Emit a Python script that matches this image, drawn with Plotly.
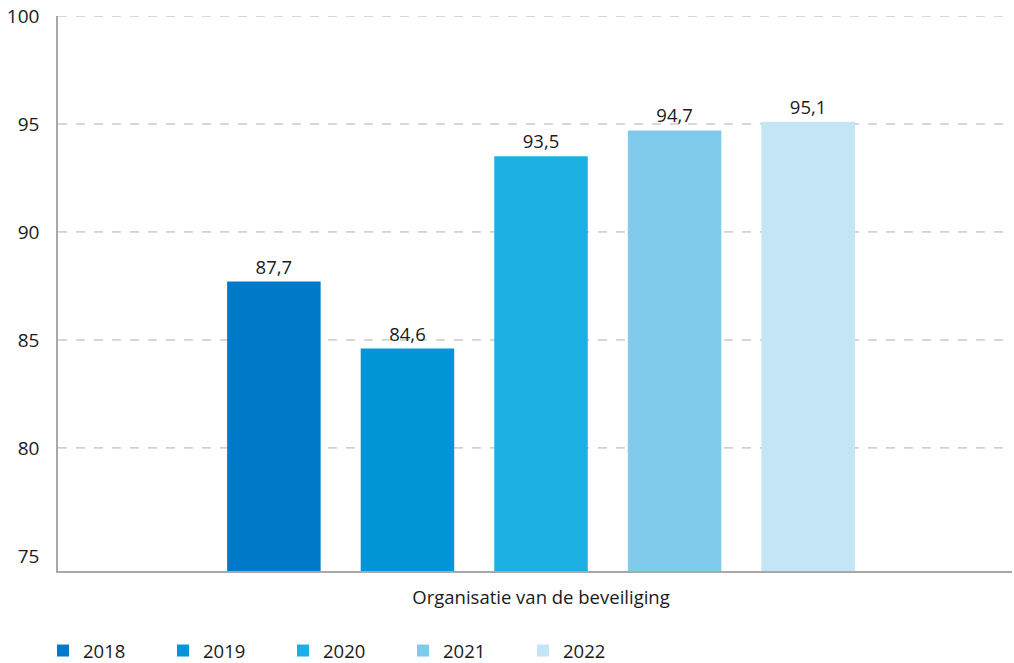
import plotly.graph_objects as go

categories = ["Organisatie van de beveiliging"]
years = ["2018", "2019", "2020", "2021", "2022"]
values = [87.7, 84.6, 93.5, 94.7, 95.1]
colors = ["#0079C8", "#0096D6", "#1BB0E1", "#80CAEB", "#C3E5F5"]
grid_values = [80, 85, 90, 95, 100]
tick_values = [75, 80, 85, 90, 95, 100]

FONT = "Open Sans"

fig = go.Figure()
for yr, v, c in zip(years, values, colors):
    fig.add_trace(go.Bar(
        x=categories, y=[v], name=yr, marker=dict(color=c, line=dict(width=0)),
        text=[v], texttemplate="%{y:.1f}", textposition="outside",
        textfont=dict(size=18.5, color="#1a1a1a", family=FONT), cliponaxis=False,
    ))

for g in grid_values:
    fig.add_shape(type="line", xref="paper", yref="y", x0=0, x1=1, y0=g, y1=g,
                  line=dict(color="#b0b0b0", width=1, dash="dash"), layer="below")

fig.update_layout(
    width=1014, height=663,
    margin=dict(l=58, r=2, t=16, b=92),
    paper_bgcolor="white", plot_bgcolor="white",
    separators=",.",
    barmode="group", bargap=0.30, bargroupgap=0.30,
    font=dict(family=FONT, size=18, color="#1a1a1a"),
    showlegend=True,
    legend=dict(orientation="h", xref="container", x=43 / 1014, xanchor="left",
                yref="container", y=1 - 651 / 663, yanchor="middle",
                entrywidth=75, entrywidthmode="pixels",
                font=dict(size=18.5, family=FONT, color="#1a1a1a"), itemsizing="constant"),
    xaxis=dict(showline=True, linecolor="#a8a8a8", linewidth=1.5, ticks="",
               tickfont=dict(size=18.5), showgrid=False, zeroline=False,
               range=[-0.5063, 0.4937],
               automargin=False, ticklabelstandoff=9),
    yaxis=dict(range=[74.3, 100], tickvals=tick_values, showgrid=False, zeroline=False,
               showline=True, linecolor="#a8a8a8", linewidth=1.5, ticks="",
               tickfont=dict(size=19), ticklabelstandoff=13, automargin=False),
)

fig.write_html(
    "out.html",
    config={"displayModeBar": False},
    post_script=(
        "document.body.style.margin='0';"
        "document.body.style.overflow='hidden';"
        "document.documentElement.style.overflow='hidden';"
    ),
)
